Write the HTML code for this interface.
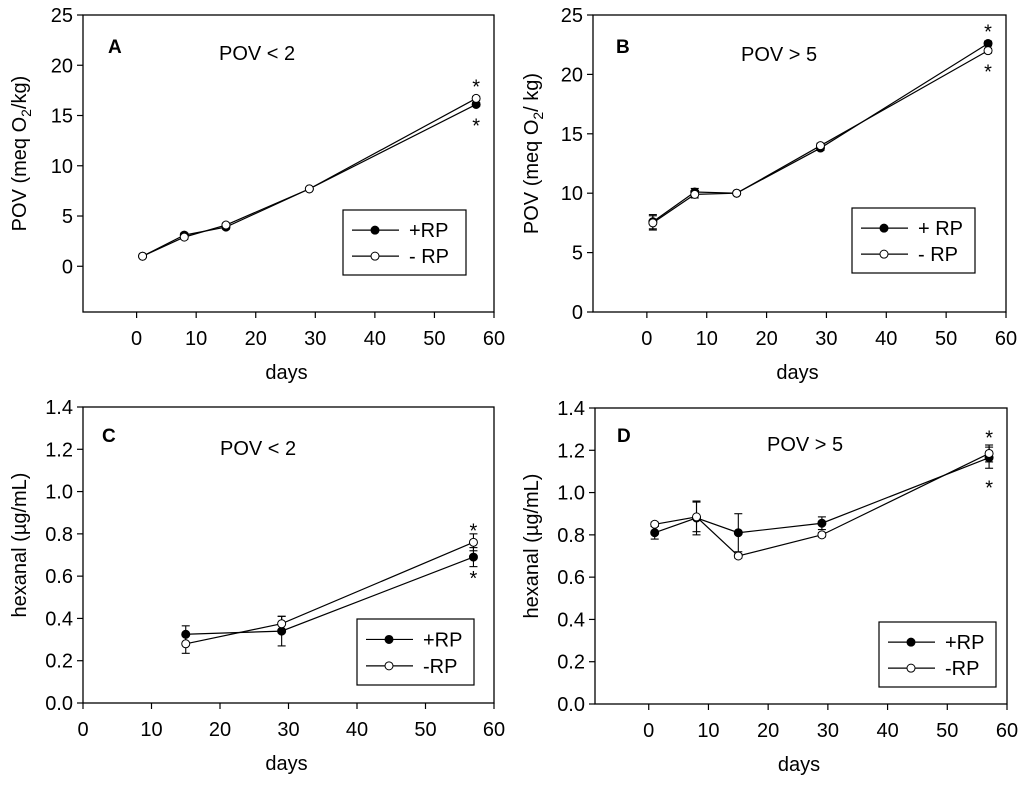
<!DOCTYPE html>
<html><head><meta charset="utf-8"><style>
body{margin:0;background:#fff;}
svg{font-family:"Liberation Sans",Arial,sans-serif;}
</style></head><body>
<svg id="s" width="1024" height="784" xmlns="http://www.w3.org/2000/svg"></svg>
<script>
const daysA = [1,8,15,29,57];
const aPlus = [1.0,3.1,3.9,7.7,16.1];
const aMinus = [1.0,2.9,4.1,7.7,16.7];
const bPlus = [7.6,10.1,10.0,13.8,22.6];
const bMinus = [7.5,9.9,10.0,14.0,22.0];
const bErr = [0.6,0.3,0.1,0.2,0.2];
const daysC = [15,29,57];
const cPlus = [0.325,0.34,0.69];
const cPlusErr = [0.04,0.07,0.045];
const cMinus = [0.28,0.375,0.76];
const cMinusErr = [0.045,0.035,0.04];
const dPlus = [0.81,0.88,0.81,0.855,1.165];
const dPlusErr = [0.03,0.08,0.09,0.03,0.05];
const dMinus = [0.85,0.885,0.70,0.80,1.185];
const dMinusErr = [0.01,0.07,0.01,0.01,0.04];
const xTicks = [0,10,20,30,40,50,60];
const povTicks = [0,5,10,15,20,25];
const hexTicks = [0,0.2,0.4,0.6,0.8,1.0,1.2,1.4];

const S = document.getElementById('s');
const NS = 'http://www.w3.org/2000/svg';
const FS = 20;
function mk(tag, attrs, parent, txt){
  const e = document.createElementNS(NS, tag);
  for (const k in attrs) e.setAttribute(k, attrs[k]);
  if (txt !== undefined) e.textContent = txt;
  (parent||S).appendChild(e);
  return e;
}

function panel(cfg){
  const g = mk('g', {});
  
  
  const L=cfg.L,R=cfg.R,T=cfg.T,B=cfg.B;
  const sx = v => L + (v - cfg.xmin)/(cfg.xmax - cfg.xmin)*(R-L);
  const sy = v => B - (v - cfg.ymin)/(cfg.ymax - cfg.ymin)*(B-T);
  const frame = mk('rect', {x:L,y:T,width:R-L,height:B-T,fill:'none',stroke:'#000','stroke-width':1.3}, g);
  
  
  xTicks.forEach(t => {
    mk('line',{x1:sx(t),x2:sx(t),y1:B,y2:B+6,stroke:'#000','stroke-width':1.2},g);
    const tl = mk('text',{x:sx(t),y:B+33,'font-size':FS,'text-anchor':'middle'},g,String(t));
    
    
  });
  cfg.yTicks.forEach(t => {
    mk('line',{x1:L-6,x2:L,y1:sy(t),y2:sy(t),stroke:'#000','stroke-width':1.2},g);
    const tl = mk('text',{x:L-10,y:sy(t)+7,'font-size':FS,'text-anchor':'end'},g,cfg.fmt(t));
    
    
  });
  const xt = mk('text',{x:(L+R)/2 - 2,y:B+67,'font-size':FS,'text-anchor':'middle'},g,'days');
  
  
  const yt = mk('text',{transform:`translate(${cfg.ytx},${(T+B)/2 - 10}) rotate(-90)`,'font-size':FS,'text-anchor':'middle'},g);
  
  
  if (cfg.pov){
    mk('tspan',{},yt,'POV (meq O');
    mk('tspan',{'font-size':14,dy:5},yt,'2');
    mk('tspan',{dy:-5},yt,cfg.id==='B'?'/ kg)':'/kg)');
  } else yt.textContent = 'hexanal (µg/mL)';
  const lt = mk('text',{x:cfg.lx,y:cfg.ly,'font-size':19,'font-weight':'bold'},g,cfg.id);
  
  
  const ct = mk('text',{x:cfg.cx,y:cfg.cy,'font-size':FS},g,cfg.cond);
  
  
  cfg.series.forEach((s, si) => {
    const sg = mk('g',{},g);
    
    
    const pts = cfg.days.map((d,i)=>sx(d)+','+sy(s.v[i])).join(' ');
    mk('polyline',{points:pts,fill:'none',stroke:'#000','stroke-width':1.2},sg);
    cfg.days.forEach((d,i)=>{
      const e = s.e ? s.e[i] : 0;
      if (e>0){
        const x=sx(d);
        mk('line',{x1:x,x2:x,y1:sy(s.v[i]-e),y2:sy(s.v[i]+e),stroke:'#000','stroke-width':1.1},sg);
        mk('line',{x1:x-4,x2:x+4,y1:sy(s.v[i]-e),y2:sy(s.v[i]-e),stroke:'#000','stroke-width':1.1},sg);
        mk('line',{x1:x-4,x2:x+4,y1:sy(s.v[i]+e),y2:sy(s.v[i]+e),stroke:'#000','stroke-width':1.1},sg);
      }
      const c = mk('circle',{cx:sx(d),cy:sy(s.v[i]),r:4,fill:si===0?'#000':'#fff',stroke:'#000','stroke-width':1},sg);
      
      
    });
  });
  const last = cfg.days.length-1;
  const xl = sx(cfg.days[last]);
  const hi = Math.max(cfg.series[0].v[last],cfg.series[1].v[last]);
  const lo = Math.min(cfg.series[0].v[last],cfg.series[1].v[last]);
  const ao = cfg.ast || [-5, 28];
  const a1 = mk('text',{x:xl,y:sy(hi)+ao[0],'font-size':FS,'text-anchor':'middle'},g,'*');
  
  
  const a2 = mk('text',{x:xl,y:sy(lo)+ao[1],'font-size':FS,'text-anchor':'middle'},g,'*');
  
  
  const lg = mk('g',{},g);
  
  
  const b = cfg.leg;
  mk('rect',{x:b[0],y:b[1],width:b[2]-b[0],height:b[3]-b[1],fill:'#fff',stroke:'#000','stroke-width':1.2},lg);
  const h = b[3]-b[1];
  cfg.legLabels.forEach((lab,i)=>{
    const y = b[1] + h*(i===0?0.31:0.71);
    const le = mk('g',{},lg);
    
    
    mk('line',{x1:b[0]+9,x2:b[0]+56,y1:y,y2:y,stroke:'#000','stroke-width':1.2},le);
    mk('circle',{cx:b[0]+32,cy:y,r:4,fill:i===0?'#000':'#fff',stroke:'#000'},le);
    mk('text',{x:b[0]+66,y:y+7,'font-size':FS},le,lab);
  });
}
const f0 = t=>String(t), f1 = t=>t.toFixed(1);
panel({id:'A',L:83,R:494,T:15,B:312,xmin:-9,xmax:60,ymin:-4.55,ymax:25,yTicks:povTicks,fmt:f0,pov:true,ytx:26,
  lx:108,ly:53,cx:219,cy:60,cond:'POV < 2',days:daysA,
  series:[{v:aPlus,e:[0.1,0.2,0.2,0.1,0.2]},{v:aMinus,e:[0.1,0.2,0.2,0.1,0.2]}],
  leg:[343,210,466,275],legLabels:['+RP','- RP']});
panel({id:'B',L:593,R:1006,T:15,B:312,xmin:-9,xmax:60,ymin:0,ymax:25,yTicks:povTicks,fmt:f0,pov:true,ytx:538,
  lx:616,ly:53,cx:741,cy:61,cond:'POV > 5',days:daysA,
  series:[{v:bPlus,e:bErr},{v:bMinus,e:bErr}],
  leg:[852,208,975,273],legLabels:['+ RP','-  RP']});
panel({id:'C',L:83,R:494,T:407,B:703,xmin:0,xmax:60,ymin:0,ymax:1.4,yTicks:hexTicks,fmt:f1,pov:false,ytx:26,
  lx:102,ly:442,cx:220,cy:455,cond:'POV < 2',days:daysC,
  series:[{v:cPlus,e:cPlusErr},{v:cMinus,e:cMinusErr}],
  leg:[357,619,474,685],legLabels:['+RP','-RP']});
panel({id:'D',L:595,R:1007,T:408,B:704,xmin:-9,xmax:60,ymin:0,ymax:1.4,yTicks:hexTicks,fmt:f1,pov:false,ytx:538,
  lx:617,ly:442,cx:767,cy:451,cond:'POV > 5',days:daysA,ast:[-9,37],
  series:[{v:dPlus,e:dPlusErr},{v:dMinus,e:dMinusErr}],
  leg:[879,622,996,687],legLabels:['+RP','-RP']});
</script>
</body></html>
